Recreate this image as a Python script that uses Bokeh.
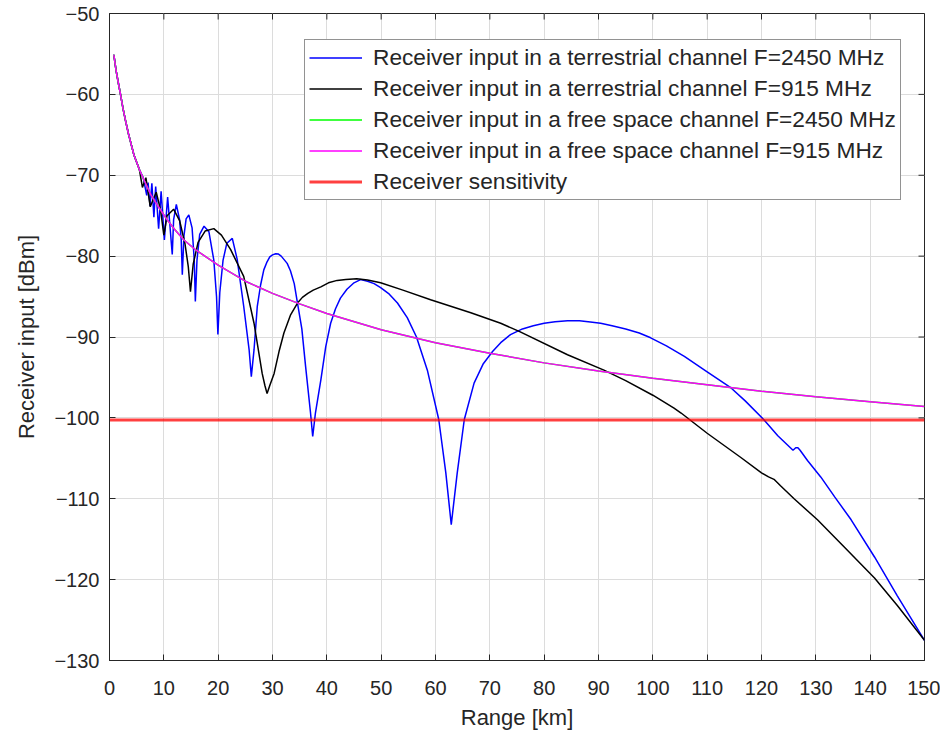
import math
from bokeh.plotting import figure
from bokeh.models import Range1d, FixedTicker, Legend, LegendItem
from bokeh.embed import file_html
from bokeh.resources import INLINE

# ---------------- data ----------------
# free space channel (915 MHz drawn on top of 2450 MHz)
fs_km = [0.8, 1.2, 1.6, 2.0, 2.5, 3.0, 3.5, 4.5, 5.5, 6.5, 7.6, 9.0, 10.5, 12.0, 13.7,
         16.0, 20.0, 25.0, 30.0, 35.0, 40.0, 50.0, 60.0, 70.0, 80.0, 90.0, 100.0,
         110.0, 120.0, 130.0, 140.0, 150.0]
fs_915_dbm = [-55.1, -57.0, -58.5, -59.9, -61.8, -63.4, -64.9, -67.5, -69.3, -70.8, -72.4,
              -73.9, -75.4, -76.7, -78.0, -79.3, -81.1, -83.1, -84.6, -85.9, -87.1, -89.1,
              -90.7, -92.0, -93.2, -94.2, -95.1, -95.9, -96.7, -97.4, -98.0, -98.6]
fs_2450_dbm = [-55.1, -57.0, -58.5, -59.9, -61.8, -63.4, -64.9, -67.5, -69.3, -70.8, -72.4,
               -73.9, -75.4, -76.7, -78.0, -79.3, -81.1, -83.1, -84.6, -85.9, -87.1, -89.1,
               -90.7, -92.0, -93.2, -94.2, -95.1, -95.9, -96.7, -97.4, -98.0, -98.6]

# terrestrial channel, F = 2450 MHz
t2450_km = [0.8, 1.2, 1.6, 2.0, 2.5, 3.0, 3.5, 4.5, 5.5, 6.2, 6.85, 7.1, 7.46, 7.8, 8.17,
            8.5, 9.04, 9.5, 10.1, 10.7, 11.55, 11.8, 12.3, 12.9, 13.2, 13.4, 13.7, 14.1,
            14.6, 15.2, 15.6, 15.8, 16.1, 16.6, 17.4, 18.3, 19.2, 19.7, 19.95, 20.3, 20.9,
            21.6, 22.6, 23.5, 24.7, 25.7, 26.1, 26.6, 27.2, 27.8, 28.4, 29.0, 29.5, 30.0,
            30.6, 31.1, 31.6, 32.1, 32.7, 33.3, 34.0, 34.6, 35.4, 36.1, 37.0, 37.4, 37.9,
            38.9, 39.8, 40.7, 41.6, 42.5, 43.7, 45.0, 46.2, 47.5, 48.7, 49.9, 51.5, 53.0,
            54.8, 56.5, 58.5, 60.6, 61.9, 62.9, 64.0, 65.3, 67.1, 68.8, 70.5, 72.0, 73.8,
            76.0, 78.0, 80.0, 82.0, 84.3, 86.5, 88.5, 90.4, 92.5, 95.0, 97.5, 99.6, 102.5,
            105.8, 110.0, 114.4, 117.0, 120.4, 123.0, 125.8, 126.3, 126.7, 127.1, 128.5,
            130.9, 133.5, 136.5, 140.8, 145.0, 150.0]
t2450_dbm = [-55.1, -57.0, -58.5, -59.9, -61.8, -63.4, -64.9, -67.5, -69.3, -70.3, -72.5,
             -70.9, -73.8, -71.0, -75.2, -71.4, -76.6, -72.0, -78.0, -72.7, -79.8, -75.5,
             -73.6, -75.5, -78.0, -82.3, -77.5, -75.4, -74.9, -76.5, -80.5, -85.6, -80.5,
             -77.3, -76.3, -77.0, -80.5, -85.0, -89.7, -84.5, -80.5, -78.4, -77.8, -80.4,
             -86.2, -91.6, -94.9, -91.6, -86.2, -83.6, -81.7, -80.7, -80.1, -79.85, -79.7,
             -79.75, -80.0, -80.4, -80.9, -81.8, -83.4, -85.8, -89.0, -93.7, -99.4, -102.3,
             -99.4, -95.3, -91.2, -88.3, -86.5, -85.2, -84.1, -83.3, -82.9, -83.1, -83.4,
             -83.9, -84.7, -85.8, -87.6, -90.0, -94.1, -100.2, -106.8, -113.2, -106.8,
             -100.2, -95.7, -93.3, -91.8, -90.7, -89.7, -89.0, -88.6, -88.3, -88.1, -88.0,
             -88.0, -88.15, -88.3, -88.6, -89.0, -89.5, -90.1, -91.1, -92.4, -94.3, -96.3,
             -97.9, -100.2, -102.2, -104.0, -103.7, -103.7, -104.0, -105.3, -107.3, -109.8,
             -112.6, -117.2, -122.0, -127.5]

# terrestrial channel, F = 915 MHz
t915_km = [0.8, 1.2, 1.6, 2.0, 2.5, 3.0, 3.5, 4.5, 5.5, 6.06, 6.7, 7.5, 8.6, 9.4, 10.0,
           10.6, 11.8, 12.9, 13.9, 14.5, 14.9, 15.4, 16.3, 17.6, 19.2, 20.6, 22.3, 24.7,
           26.6, 28.1, 28.6, 29.0, 29.5, 30.3, 31.2, 32.1, 33.3, 34.6, 35.5, 36.5, 37.5,
           38.9, 40.3, 41.9, 43.5, 45.5, 47.5, 49.9, 54.0, 59.1, 66.5, 72.0, 75.4, 84.3,
           91.0, 95.0, 100.0, 103.9, 105.2, 110.0, 116.2, 120.0, 121.3, 122.3, 123.5,
           126.0, 130.3, 135.0, 140.8, 145.0, 150.0]
t915_dbm = [-55.1, -57.0, -58.5, -59.9, -61.8, -63.4, -64.9, -67.5, -69.3, -71.5, -70.3,
            -73.9, -72.1, -74.3, -77.4, -75.0, -74.2, -75.6, -78.5, -81.3, -84.4, -81.0,
            -78.3, -76.9, -76.6, -77.4, -79.2, -82.5, -88.3, -94.5, -96.0, -97.0, -96.0,
            -94.5, -91.8, -89.5, -87.3, -85.8, -85.1, -84.6, -84.2, -83.8, -83.3, -83.0,
            -82.9, -82.8, -82.95, -83.3, -84.2, -85.4, -87.0, -88.3, -89.3, -92.2, -94.1,
            -95.4, -97.2, -98.8, -99.4, -101.9, -104.9, -106.8, -107.3, -107.6, -108.4,
            -110.0, -112.6, -115.8, -119.8, -123.2, -127.5]

# receiver sensitivity
sens_km = [0.0, 150.0]
sens_dbm = [-100.25, -100.25]

x_ticks = list(range(0, 151, 10))
y_ticks = list(range(-130, -49, 10))
y_tick_labels = ["\u2212130", "\u2212120", "\u2212110", "\u2212100", "\u221290",
                 "\u221280", "\u221270", "\u221260", "\u221250"]

legend_labels = [
    "Receiver input in a terrestrial channel F=2450 MHz",
    "Receiver input in a terrestrial channel F=915 MHz",
    "Receiver input in a free space channel F=2450 MHz",
    "Receiver input in a free space channel F=915 MHz",
    "Receiver sensitivity",
]

FONT = "Liberation Sans"
TXT = "#262626"

p = figure(width=940, height=738,
           x_range=Range1d(0, 150), y_range=Range1d(-130, -50),
           output_backend="svg", toolbar_location=None,
           min_border_left=109, min_border_right=16,
           min_border_top=13, min_border_bottom=78)
p.background_fill_color = "white"
p.border_fill_color = "white"
p.outline_line_color = TXT
p.outline_line_width = 1

p.xgrid.ticker = FixedTicker(ticks=x_ticks)
p.ygrid.ticker = FixedTicker(ticks=y_ticks)
p.xgrid.grid_line_color = "#dcdcdc"
p.ygrid.grid_line_color = "#dcdcdc"

r_blue = p.line(t2450_km, t2450_dbm, line_color="#0000ff", line_width=1.5)
r_black = p.line(t915_km, t915_dbm, line_color="#000000", line_width=1.5)
r_green = p.line(fs_km, fs_2450_dbm, line_color="#00ff00", line_width=1.5)
r_mag = p.line(fs_km, fs_915_dbm, line_color="#ff00ff", line_width=1.5)
r_red = p.line(sens_km, sens_dbm, line_color="#ff0000", line_width=3, line_alpha=0.75)

# inward tick marks on the top and right edges of the box
p.ray(x=x_ticks, y=[-50] * len(x_ticks), length=6, length_units="screen",
      angle=-math.pi / 2, line_color=TXT, line_width=1)
p.ray(x=[150] * len(y_ticks), y=y_ticks, length=6, length_units="screen",
      angle=math.pi, line_color=TXT, line_width=1)

for ax in (p.xaxis[0], p.yaxis[0]):
    ax.major_tick_in = 6
    ax.major_tick_out = 0
    ax.minor_tick_line_color = None
    ax.axis_line_color = TXT
    ax.major_tick_line_color = TXT
    ax.major_label_text_font = FONT
    ax.major_label_text_font_size = "20px"
    ax.major_label_text_color = TXT
    ax.axis_label_text_font = FONT
    ax.axis_label_text_font_size = "22px"
    ax.axis_label_text_font_style = "normal"
    ax.axis_label_text_color = TXT

p.xaxis[0].ticker = FixedTicker(ticks=x_ticks)
p.yaxis[0].ticker = FixedTicker(ticks=y_ticks)
p.yaxis[0].major_label_overrides = {t: s for t, s in zip(y_ticks, y_tick_labels)}
p.xaxis[0].axis_label = "Range [km]"
p.yaxis[0].axis_label = "Receiver input [dBm]"
p.xaxis[0].major_label_standoff = 20
p.yaxis[0].major_label_standoff = 10
p.xaxis[0].axis_label_standoff = 7
p.yaxis[0].axis_label_standoff = 12

legend = Legend(items=[LegendItem(label=l, renderers=[r]) for l, r in
                       zip(legend_labels, [r_blue, r_black, r_green, r_mag, r_red])],
                location=(195, 460))
legend.label_text_font = FONT
legend.label_text_font_size = "22.7px"
legend.label_text_color = TXT
legend.glyph_width = 53
legend.glyph_height = 21
legend.label_height = 21
legend.label_standoff = 11
legend.spacing = 4
legend.padding = 4
legend.margin = 0
legend.border_line_color = TXT
legend.border_line_width = 1
legend.background_fill_color = "white"
legend.background_fill_alpha = 1
p.add_layout(legend, "center")

open("out.html", "w").write(file_html(p, INLINE))
